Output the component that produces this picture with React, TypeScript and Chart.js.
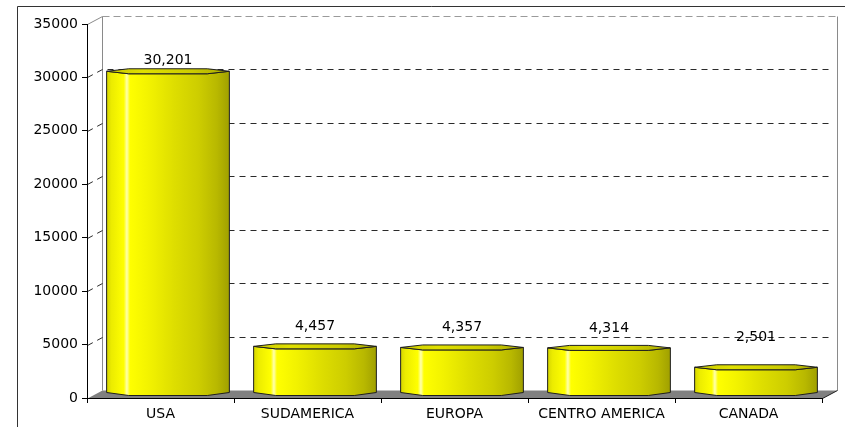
import React, { useEffect, useRef } from "react";
import { Chart, registerables } from "chart.js";
Chart.register(...registerables);

const categories = ["USA", "SUDAMERICA", "EUROPA", "CENTRO AMERICA", "CANADA"];
const values = [30201, 4457, 4357, 4314, 2501];
const yTicks = [0, 5000, 10000, 15000, 20000, 25000, 30000, 35000];

const FONT = "'DejaVu Sans', 'Liberation Sans', Arial, sans-serif";
const DX = 15;
const DY = -8;

const threeD = {
  id: "threeD",
  beforeDraw(chart: any, _args: any, opts: any) {
    const { ctx, chartArea: a, scales } = chart;
    const ys = scales.y;
    const W = chart.width;
    const H = chart.height;
    ctx.save();
    ctx.fillStyle = "#ffffff";
    ctx.fillRect(0, 0, W, H);
    // outer frame
    ctx.strokeStyle = "#333333";
    ctx.lineWidth = 1;
    ctx.beginPath();
    ctx.moveTo(17.5, H);
    ctx.lineTo(17.5, 6.5);
    ctx.lineTo(W, 6.5);
    ctx.stroke();

    const L = a.left + 0.5;
    const R = a.right + 0.5;
    const B = Math.round(a.bottom) + 0.5;
    const topV = yTicks[yTicks.length - 1];
    const wallTop = Math.round(ys.getPixelForValue(topV)) + DY + 0.5;

    // back wall edges
    ctx.strokeStyle = "#8a8a8a";
    ctx.beginPath();
    ctx.moveTo(L + DX, wallTop);
    ctx.lineTo(L + DX, B + DY);
    ctx.moveTo(R + DX, wallTop);
    ctx.lineTo(R + DX, B + DY);
    ctx.moveTo(L, wallTop - DY);
    ctx.lineTo(L + DX, wallTop);
    ctx.stroke();
    ctx.setLineDash([7, 4]);
    ctx.strokeStyle = "#9a9a9a";
    ctx.beginPath();
    ctx.moveTo(L + DX, wallTop);
    ctx.lineTo(R + DX, wallTop);
    ctx.stroke();

    // gridlines on the back wall
    ctx.strokeStyle = "#2a2a2a";
    ctx.setLineDash([6, 5]);
    yTicks.slice(1, yTicks.length - 1).forEach((v) => {
      const py = Math.round(ys.getPixelForValue(v)) + 0.5;
      ctx.beginPath();
      ctx.moveTo(L, py);
      ctx.lineTo(L + DX, py + DY);
      ctx.lineTo(R + DX - 5, py + DY);
      ctx.stroke();
    });
    ctx.setLineDash([]);

    // floor
    ctx.fillStyle = "#808080";
    ctx.beginPath();
    ctx.moveTo(L, B);
    ctx.lineTo(L + DX, B + DY);
    ctx.lineTo(R + DX, B + DY);
    ctx.lineTo(R, B);
    ctx.closePath();
    ctx.fill();
    ctx.strokeStyle = "#222222";
    ctx.beginPath();
    ctx.moveTo(R, B);
    ctx.lineTo(R + DX, B + DY);
    ctx.stroke();
    ctx.restore();
  },
  afterDatasetsDraw(chart: any, _args: any, opts: any) {
    const { ctx } = chart;
    const meta = chart.getDatasetMeta(0);
    const lifts: number[] = opts.labelLift || [];
    ctx.save();
    meta.data.forEach((el: any, i: number) => {
      const { x, y, base, width } = el.getProps(["x", "y", "base", "width"], true);
      const cx = x + DX / 2;
      const Lx = cx - width / 2;
      const Rx = cx + width / 2;
      const T = y + DY / 2;
      const Bt = base + DY / 2 - 1;
      const h = 2.5;
      const ins = width * 0.18;

      const grad = ctx.createLinearGradient(Lx, 0, Rx, 0);
      grad.addColorStop(0, "#d6d600");
      grad.addColorStop(0.04, "#ecec00");
      grad.addColorStop(0.14, "#ffff00");
      grad.addColorStop(0.165, "#ffffb0");
      grad.addColorStop(0.19, "#ffff00");
      grad.addColorStop(0.35, "#f2f200");
      grad.addColorStop(0.55, "#dede00");
      grad.addColorStop(0.75, "#cdcd00");
      grad.addColorStop(0.9, "#b8b800");
      grad.addColorStop(1, "#a0a000");

      // body
      ctx.fillStyle = grad;
      ctx.strokeStyle = "#1e1e1e";
      ctx.lineWidth = 1;
      ctx.beginPath();
      ctx.moveTo(Lx, T);
      ctx.lineTo(Lx, Bt);
      ctx.lineTo(Lx + ins, Bt + 3);
      ctx.lineTo(Rx - ins, Bt + 3);
      ctx.lineTo(Rx, Bt);
      ctx.lineTo(Rx, T);
      ctx.lineTo(Rx - ins, T + h);
      ctx.lineTo(Lx + ins, T + h);
      ctx.closePath();
      ctx.fill();
      ctx.stroke();

      // top cap
      const capGrad = ctx.createLinearGradient(Lx, 0, Rx, 0);
      capGrad.addColorStop(0, "#c8c800");
      capGrad.addColorStop(0.3, "#e0e000");
      capGrad.addColorStop(0.7, "#cccc00");
      capGrad.addColorStop(1, "#a8a800");
      ctx.fillStyle = capGrad;
      ctx.beginPath();
      ctx.moveTo(Lx, T);
      ctx.lineTo(Lx + ins, T - h);
      ctx.lineTo(Rx - ins, T - h);
      ctx.lineTo(Rx, T);
      ctx.lineTo(Rx - ins, T + h);
      ctx.lineTo(Lx + ins, T + h);
      ctx.closePath();
      ctx.fill();
      ctx.stroke();

      // value label
      ctx.fillStyle = "#000000";
      ctx.font = `14px ${FONT}`;
      ctx.textAlign = "center";
      ctx.textBaseline = "middle";
      ctx.fillText(values[i].toLocaleString("en-US"), cx, T - (lifts[i] ?? 15));
    });
    ctx.restore();
  },
};

export default function App() {
  const ref = useRef<HTMLCanvasElement | null>(null);
  useEffect(() => {
    if (!ref.current) return;
    const chart = new Chart(ref.current, {
      type: "bar",
      data: {
        labels: categories,
        datasets: [
          {
            data: values,
            backgroundColor: "rgba(0,0,0,0)",
            borderWidth: 0,
            categoryPercentage: 1,
            barPercentage: 0.835,
          },
        ],
      },
      options: {
        animation: false,
        responsive: false,
        devicePixelRatio: 1,
        layout: { padding: { top: 24, right: 23, left: 0, bottom: 0 } },
        plugins: {
          legend: { display: false },
          tooltip: { enabled: false },
          threeD: { labelLift: [11, 20, 20, 20, 30] },
        } as any,
        scales: {
          x: {
            offset: true,
            grid: {
              display: true,
              offset: true,
              drawOnChartArea: false,
              drawTicks: true,
              tickLength: 5,
              color: "#000000",
            },
            border: { display: true, color: "#000000", width: 1 },
            ticks: {
              color: "#000000",
              font: { family: FONT, size: 14 },
              padding: 3,
              maxRotation: 0,
              autoSkip: false,
            },
            afterFit: (s: any) => {
              s.height = 29;
            },
          },
          y: {
            min: yTicks[0],
            max: yTicks[yTicks.length - 1],
            grid: {
              display: true,
              drawOnChartArea: false,
              drawTicks: true,
              tickLength: 5,
              color: "#000000",
            },
            border: { display: true, color: "#000000", width: 1 },
            ticks: {
              stepSize: 5000,
              color: "#000000",
              font: { family: FONT, size: 14 },
              padding: 4,
              callback: (v: any) => String(v),
            },
            afterFit: (s: any) => {
              s.width = 87;
            },
          },
        },
      },
      plugins: [threeD],
    });
    return () => chart.destroy();
  }, []);
  return (
    <canvas
      ref={ref}
      width={845}
      height={427}
      style={{ position: "absolute", left: 0, top: 0, width: 845, height: 427 }}
    />
  );
}
